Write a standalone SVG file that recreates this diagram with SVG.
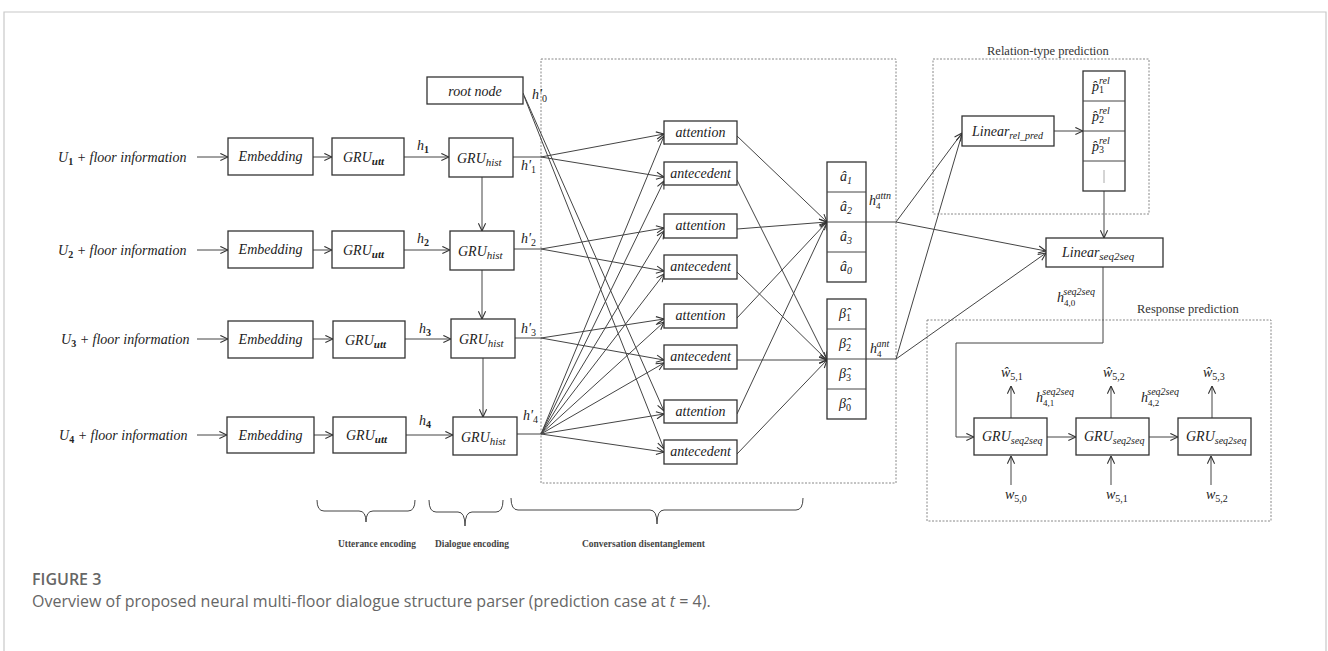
<svg xmlns="http://www.w3.org/2000/svg" width="1328" height="651" viewBox="0 0 1328 651">
<style>
.bx{fill:#fff;stroke:#333;stroke-width:1.3}
.ln{fill:none;stroke:#444;stroke-width:1}
.dash{fill:none;stroke:#888;stroke-width:1;stroke-dasharray:2 1.5}
.t{font-family:"Liberation Serif",serif;font-style:italic;font-size:14px;fill:#222}
.tb{font-family:"Liberation Serif",serif;font-size:12.5px;fill:#333}
.tl{font-family:"Liberation Serif",serif;font-weight:bold;font-size:11px;fill:#444}
.cap{font-family:"Open Sans","Noto Sans",sans-serif;fill:#666}
</style>
<defs>
<marker id="a" viewBox="0 0 10 10" refX="9.5" refY="5" markerWidth="9" markerHeight="9" markerUnits="userSpaceOnUse" orient="auto">
<path d="M1,1 L9.5,5 L1,9" fill="none" stroke="#333" stroke-width="1.2"/>
</marker>
</defs>
<rect x="0" y="0" width="1328" height="651" fill="#fff"/>
<path d="M4,660 L4,12 L1326,12 L1326,660" fill="none" stroke="#c8c8c8" stroke-width="1.2"/>

<g id="groups">
<rect class="dash" x="541" y="59" width="355" height="424"/>
<rect class="dash" x="933" y="59" width="216" height="155"/>
<text class="tb" x="987" y="55">Relation-type prediction</text>
<rect class="dash" x="927" y="320" width="344" height="201"/>
<text class="tb" x="1137" y="313">Response prediction</text>
</g>

<g id="connectors" class="ln">
<line x1="197" y1="157" x2="228" y2="157" marker-end="url(#a)"/>
<line x1="197" y1="250" x2="228" y2="250" marker-end="url(#a)"/>
<line x1="197" y1="339" x2="228" y2="339" marker-end="url(#a)"/>
<line x1="197" y1="435" x2="227" y2="435" marker-end="url(#a)"/>
<line x1="313" y1="157" x2="332" y2="157" marker-end="url(#a)"/>
<line x1="313" y1="250" x2="332" y2="250" marker-end="url(#a)"/>
<line x1="313" y1="339" x2="333" y2="339" marker-end="url(#a)"/>
<line x1="314" y1="435" x2="333" y2="435" marker-end="url(#a)"/>
<line x1="404" y1="157" x2="449" y2="157" marker-end="url(#a)"/>
<line x1="404" y1="250" x2="450" y2="250" marker-end="url(#a)"/>
<line x1="405" y1="339" x2="451" y2="339" marker-end="url(#a)"/>
<line x1="406" y1="435" x2="453" y2="435" marker-end="url(#a)"/>
<line x1="482" y1="177" x2="482" y2="231" marker-end="url(#a)"/>
<line x1="482" y1="270" x2="482" y2="319" marker-end="url(#a)"/>
<line x1="483" y1="358" x2="483" y2="417" marker-end="url(#a)"/>
<line x1="513" y1="157" x2="541" y2="157"/>
<line x1="514" y1="249" x2="541" y2="249"/>
<line x1="515" y1="338" x2="541" y2="338"/>
<line x1="517" y1="434" x2="541" y2="434"/>
<line x1="541" y1="157" x2="664" y2="134" marker-end="url(#a)"/>
<line x1="541" y1="157" x2="664" y2="177" marker-end="url(#a)"/>
<line x1="541" y1="249" x2="664" y2="228" marker-end="url(#a)"/>
<line x1="541" y1="249" x2="664" y2="271" marker-end="url(#a)"/>
<line x1="541" y1="338" x2="664" y2="319" marker-end="url(#a)"/>
<line x1="541" y1="338" x2="664" y2="360" marker-end="url(#a)"/>
<line x1="541" y1="434" x2="664" y2="136" marker-end="url(#a)"/>
<line x1="541" y1="434" x2="664" y2="181" marker-end="url(#a)"/>
<line x1="541" y1="434" x2="664" y2="231" marker-end="url(#a)"/>
<line x1="541" y1="434" x2="664" y2="274" marker-end="url(#a)"/>
<line x1="541" y1="434" x2="664" y2="322" marker-end="url(#a)"/>
<line x1="541" y1="434" x2="664" y2="363" marker-end="url(#a)"/>
<line x1="541" y1="434" x2="664" y2="414" marker-end="url(#a)"/>
<line x1="541" y1="434" x2="664" y2="452" marker-end="url(#a)"/>
<line x1="523" y1="93" x2="664" y2="411" marker-end="url(#a)"/>
<line x1="524" y1="96" x2="664" y2="449" marker-end="url(#a)"/>
<line x1="737" y1="136" x2="827" y2="222" marker-end="url(#a)"/>
<line x1="737" y1="229" x2="827" y2="222" marker-end="url(#a)"/>
<line x1="737" y1="318" x2="827" y2="222" marker-end="url(#a)"/>
<line x1="737" y1="414" x2="827" y2="222" marker-end="url(#a)"/>
<line x1="737" y1="180" x2="827" y2="360" marker-end="url(#a)"/>
<line x1="737" y1="272" x2="827" y2="360" marker-end="url(#a)"/>
<line x1="737" y1="360" x2="827" y2="360" marker-end="url(#a)"/>
<line x1="737" y1="454" x2="827" y2="360" marker-end="url(#a)"/>
<line x1="866" y1="222" x2="896" y2="222"/>
<line x1="866" y1="359" x2="896" y2="359"/>
<line x1="896" y1="222" x2="962" y2="133" marker-end="url(#a)"/>
<line x1="896" y1="359" x2="962" y2="134" marker-end="url(#a)"/>
<line x1="896" y1="222" x2="1046" y2="251" marker-end="url(#a)"/>
<line x1="896" y1="359" x2="1046" y2="253" marker-end="url(#a)"/>
<line x1="1054" y1="131" x2="1083" y2="131" marker-end="url(#a)"/>
<line x1="1104" y1="191" x2="1104" y2="238" marker-end="url(#a)"/>
<path d="M1103,267 L1103,343 L956,343 L956,437 L974,437" marker-end="url(#a)"/>
<line x1="1047" y1="437" x2="1076" y2="437" marker-end="url(#a)"/>
<line x1="1149" y1="437" x2="1178" y2="437" marker-end="url(#a)"/>
<line x1="1011" y1="418" x2="1011" y2="386" marker-end="url(#a)"/>
<line x1="1111" y1="418" x2="1111" y2="386" marker-end="url(#a)"/>
<line x1="1212" y1="418" x2="1212" y2="386" marker-end="url(#a)"/>
<line x1="1011" y1="485" x2="1011" y2="456" marker-end="url(#a)"/>
<line x1="1111" y1="485" x2="1111" y2="456" marker-end="url(#a)"/>
<line x1="1211" y1="485" x2="1211" y2="456" marker-end="url(#a)"/>
</g>

<g id="inputs">
<text class="t" x="58" y="162">U<tspan font-size="10" dy="3" font-style="normal" font-weight="bold">1</tspan><tspan dy="-3"> + floor information</tspan></text>
<text class="t" x="58" y="255">U<tspan font-size="10" dy="3" font-style="normal" font-weight="bold">2</tspan><tspan dy="-3"> + floor information</tspan></text>
<text class="t" x="61" y="344">U<tspan font-size="10" dy="3" font-style="normal" font-weight="bold">3</tspan><tspan dy="-3"> + floor information</tspan></text>
<text class="t" x="59" y="440">U<tspan font-size="10" dy="3" font-style="normal" font-weight="bold">4</tspan><tspan dy="-3"> + floor information</tspan></text>
</g>

<g id="emb1"><rect class="bx" x="228" y="138" width="85" height="37"/><text class="t" x="270.5" y="161" text-anchor="middle">Embedding</text></g>
<g id="emb2"><rect class="bx" x="228" y="231" width="85" height="37"/><text class="t" x="270.5" y="254" text-anchor="middle">Embedding</text></g>
<g id="emb3"><rect class="bx" x="228" y="321" width="85" height="37"/><text class="t" x="270.5" y="344" text-anchor="middle">Embedding</text></g>
<g id="emb4"><rect class="bx" x="227" y="417" width="87" height="36"/><text class="t" x="270.5" y="440" text-anchor="middle">Embedding</text></g>

<g id="utt1"><rect class="bx" x="332" y="138" width="72" height="37"/><text class="t" x="343" y="162">GRU<tspan font-size="11" font-weight="bold" dy="3">utt</tspan></text></g>
<g id="utt2"><rect class="bx" x="332" y="231" width="72" height="37"/><text class="t" x="343" y="255">GRU<tspan font-size="11" font-weight="bold" dy="3">utt</tspan></text></g>
<g id="utt3"><rect class="bx" x="333" y="321" width="72" height="37"/><text class="t" x="345" y="345">GRU<tspan font-size="11" font-weight="bold" dy="3">utt</tspan></text></g>
<g id="utt4"><rect class="bx" x="333" y="417" width="73" height="36"/><text class="t" x="346" y="440">GRU<tspan font-size="11" font-weight="bold" dy="3">utt</tspan></text></g>

<g id="hlabels" class="t">
<text x="417" y="150">h<tspan font-size="10" font-style="normal" font-weight="bold" dy="3">1</tspan></text>
<text x="417" y="243">h<tspan font-size="10" font-style="normal" font-weight="bold" dy="3">2</tspan></text>
<text x="419" y="333">h<tspan font-size="10" font-style="normal" font-weight="bold" dy="3">3</tspan></text>
<text x="419" y="425">h<tspan font-size="10" font-style="normal" font-weight="bold" dy="3">4</tspan></text>
<text x="521" y="170">h′<tspan font-size="10" font-style="normal" dy="3">1</tspan></text>
<text x="521" y="243">h′<tspan font-size="10" font-style="normal" dy="3">2</tspan></text>
<text x="521" y="333">h′<tspan font-size="10" font-style="normal" dy="3">3</tspan></text>
<text x="523" y="420">h′<tspan font-size="10" font-style="normal" dy="3">4</tspan></text>
<text x="532" y="99">h′<tspan font-size="10" font-style="normal" dy="3">0</tspan></text>
</g>

<g id="hist1"><rect class="bx" x="449" y="138" width="64" height="39"/><text class="t" x="457" y="163">GRU<tspan font-size="11" dy="3">hist</tspan></text></g>
<g id="hist2"><rect class="bx" x="450" y="231" width="64" height="39"/><text class="t" x="458" y="256">GRU<tspan font-size="11" dy="3">hist</tspan></text></g>
<g id="hist3"><rect class="bx" x="451" y="319" width="64" height="39"/><text class="t" x="459" y="344">GRU<tspan font-size="11" dy="3">hist</tspan></text></g>
<g id="hist4"><rect class="bx" x="453" y="417" width="64" height="38"/><text class="t" x="461" y="442">GRU<tspan font-size="11" dy="3">hist</tspan></text></g>

<g id="root"><rect class="bx" x="427" y="77" width="96" height="27"/><text class="t" x="475" y="96" text-anchor="middle" font-size="15.5">root node</text></g>

<g id="att1"><rect class="bx" x="664" y="121" width="73" height="23"/><text class="t" x="700.5" y="137" text-anchor="middle">attention</text></g>
<g id="ant1"><rect class="bx" x="664" y="162" width="73" height="23"/><text class="t" x="700.5" y="178" text-anchor="middle">antecedent</text></g>
<g id="att2"><rect class="bx" x="664" y="214" width="73" height="24"/><text class="t" x="700.5" y="230" text-anchor="middle">attention</text></g>
<g id="ant2"><rect class="bx" x="664" y="255" width="73" height="24"/><text class="t" x="700.5" y="271" text-anchor="middle">antecedent</text></g>
<g id="att3"><rect class="bx" x="664" y="304" width="73" height="24"/><text class="t" x="700.5" y="320" text-anchor="middle">attention</text></g>
<g id="ant3"><rect class="bx" x="664" y="345" width="73" height="24"/><text class="t" x="700.5" y="361" text-anchor="middle">antecedent</text></g>
<g id="att4"><rect class="bx" x="664" y="400" width="73" height="23"/><text class="t" x="700.5" y="416" text-anchor="middle">attention</text></g>
<g id="ant4"><rect class="bx" x="664" y="440" width="73" height="24"/><text class="t" x="700.5" y="456" text-anchor="middle">antecedent</text></g>

<g id="alpha">
<rect class="bx" x="827" y="162" width="39" height="120"/>
<line class="ln" x1="827" y1="192" x2="866" y2="192"/><line class="ln" x1="827" y1="222" x2="866" y2="222"/><line class="ln" x1="827" y1="252" x2="866" y2="252"/>
<text class="t" font-style="normal" x="840" y="181">â<tspan font-size="10" dy="3">1</tspan></text>
<text class="t" font-style="normal" x="840" y="211">â<tspan font-size="10" dy="3">2</tspan></text>
<text class="t" font-style="normal" x="840" y="241">â<tspan font-size="10" dy="3">3</tspan></text>
<text class="t" font-style="normal" x="840" y="271">â<tspan font-size="10" dy="3">0</tspan></text>
</g>
<g id="beta">
<rect class="bx" x="827" y="299" width="39" height="120"/>
<line class="ln" x1="827" y1="329" x2="866" y2="329"/><line class="ln" x1="827" y1="359" x2="866" y2="359"/><line class="ln" x1="827" y1="389" x2="866" y2="389"/>
<text class="t" x="839" y="318">β̂<tspan font-size="10" font-style="normal" dy="3">1</tspan></text>
<text class="t" x="839" y="348">β̂<tspan font-size="10" font-style="normal" dy="3">2</tspan></text>
<text class="t" x="839" y="378">β̂<tspan font-size="10" font-style="normal" dy="3">3</tspan></text>
<text class="t" x="839" y="408">β̂<tspan font-size="10" font-style="normal" dy="3">0</tspan></text>
</g>
<g id="hattn" class="t"><text x="869" y="205">h<tspan font-size="9" font-style="normal" dy="4">4</tspan><tspan font-size="10" dx="-5" dy="-10">attn</tspan></text></g>
<g id="hant" class="t"><text x="870" y="353">h<tspan font-size="9" font-style="normal" dy="4">4</tspan><tspan font-size="10" dx="-5" dy="-10">ant</tspan></text></g>

<g id="linrel"><rect class="bx" x="962" y="116" width="92" height="30"/><text class="t" x="972" y="136">Linear<tspan font-size="10" dy="3">rel_pred</tspan></text></g>
<g id="prel">
<rect class="bx" x="1083" y="71" width="42" height="120"/>
<line class="ln" x1="1083" y1="101" x2="1125" y2="101"/><line class="ln" x1="1083" y1="131" x2="1125" y2="131"/><line class="ln" x1="1083" y1="161" x2="1125" y2="161"/>
<text class="t" x="1092" y="91">p̂<tspan font-size="10" font-style="normal" dy="2">1</tspan><tspan font-size="10" dx="-5" dy="-9">rel</tspan></text>
<text class="t" x="1092" y="121">p̂<tspan font-size="10" font-style="normal" dy="2">2</tspan><tspan font-size="10" dx="-5" dy="-9">rel</tspan></text>
<text class="t" x="1092" y="151">p̂<tspan font-size="10" font-style="normal" dy="2">3</tspan><tspan font-size="10" dx="-5" dy="-9">rel</tspan></text>
<line x1="1104" y1="170" x2="1104" y2="183" stroke="#aaa" stroke-width="1"/>
</g>
<g id="linseq"><rect class="bx" x="1046" y="238" width="117" height="29"/><text class="t" x="1062" y="257">Linear<tspan font-size="11" dy="3">seq2seq</tspan></text></g>
<g id="h40" class="t"><text x="1057" y="302">h<tspan font-size="9" font-style="normal" dy="4">4,0</tspan><tspan font-size="10" dx="-12" dy="-11">seq2seq</tspan></text></g>

<g id="gs1"><rect class="bx" x="974" y="418" width="73" height="37"/><text class="t" x="982" y="441" font-size="13">GRU<tspan font-size="10" dy="3">seq2seq</tspan></text></g>
<g id="gs2"><rect class="bx" x="1076" y="418" width="73" height="37"/><text class="t" x="1084" y="441" font-size="13">GRU<tspan font-size="10" dy="3">seq2seq</tspan></text></g>
<g id="gs3"><rect class="bx" x="1178" y="418" width="73" height="37"/><text class="t" x="1186" y="441" font-size="13">GRU<tspan font-size="10" dy="3">seq2seq</tspan></text></g>

<g id="seqlabels" class="t">
<text x="1001" y="377">ŵ<tspan font-size="10" font-style="normal" dy="3">5,1</tspan></text>
<text x="1103" y="377">ŵ<tspan font-size="10" font-style="normal" dy="3">5,2</tspan></text>
<text x="1203" y="377">ŵ<tspan font-size="10" font-style="normal" dy="3">5,3</tspan></text>
<text x="1005" y="499">w<tspan font-size="10" font-style="normal" dy="3">5,0</tspan></text>
<text x="1106" y="499">w<tspan font-size="10" font-style="normal" dy="3">5,1</tspan></text>
<text x="1206" y="499">w<tspan font-size="10" font-style="normal" dy="3">5,2</tspan></text>
<text x="1036" y="402">h<tspan font-size="9" font-style="normal" dy="4">4,1</tspan><tspan font-size="10" dx="-12" dy="-11">seq2seq</tspan></text>
<text x="1141" y="402">h<tspan font-size="9" font-style="normal" dy="4">4,2</tspan><tspan font-size="10" dx="-12" dy="-11">seq2seq</tspan></text>
</g>

<g id="braces" class="ln" stroke="#555">
<path d="M317,500 Q317,511 324,511 L359,511 Q366,511 366,522 Q366,511 373,511 L408,511 Q415,511 415,500"/>
<path d="M429,500 Q429,512 436,512 L458,512 Q465,512 465,526 Q465,512 472,512 L496,512 Q503,512 503,500"/>
<path d="M511,498 Q511,510 518,510 L650,510 Q657,510 657,524 Q657,510 664,510 L796,510 Q803,510 803,498"/>
</g>
<g id="bracelabels">
<text class="tl" x="338" y="547" textLength="78" lengthAdjust="spacingAndGlyphs">Utterance encoding</text>
<text class="tl" x="435" y="547" textLength="74" lengthAdjust="spacingAndGlyphs">Dialogue encoding</text>
<text class="tl" x="582" y="547" textLength="123" lengthAdjust="spacingAndGlyphs">Conversation disentanglement</text>
</g>

<g id="caption">
<text class="cap" x="32" y="585" font-size="16" font-weight="600" fill="#555">FIGURE 3</text>
<text class="cap" x="32" y="607" font-size="16">Overview of proposed neural multi-floor dialogue structure parser (prediction case at <tspan font-style="italic">t</tspan> = 4).</text>
</g>
</svg>
